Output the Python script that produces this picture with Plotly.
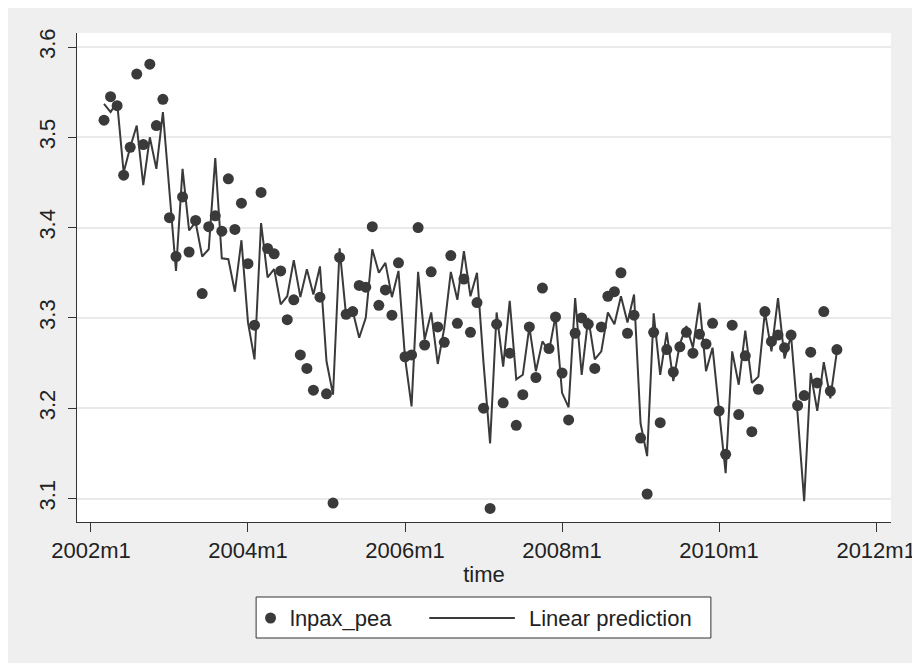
import plotly.graph_objects as go

# ---- data (monthly, starting 2002m3) ----
start_year = 2002
start_month = 3

lnpax_pea = [
    3.519, 3.545, 3.535, 3.458, 3.489, 3.570, 3.492, 3.581, 3.513, 3.542,
    3.411, 3.368, 3.434, 3.373, 3.408, 3.327, 3.401, 3.413, 3.396, 3.454,
    3.398, 3.427, 3.360, 3.292, 3.439, 3.377, 3.371, 3.352, 3.298, 3.320,
    3.259, 3.244, 3.220, 3.323, 3.216, 3.095, 3.367, 3.304, 3.307, 3.336,
    3.334, 3.401, 3.314, 3.331, 3.303, 3.361, 3.257, 3.259, 3.400, 3.270,
    3.351, 3.290, 3.273, 3.369, 3.294, 3.343, 3.284, 3.317, 3.200, 3.089,
    3.293, 3.206, 3.261, 3.181, 3.215, 3.290, 3.234, 3.333, 3.266, 3.301,
    3.239, 3.187, 3.283, 3.300, 3.293, 3.244, 3.290, 3.324, 3.329, 3.350,
    3.283, 3.303, 3.167, 3.105, 3.284, 3.184, 3.265, 3.240, 3.268, 3.284,
    3.261, 3.282, 3.271, 3.294, 3.197, 3.149, 3.292, 3.193, 3.258, 3.174,
    3.221, 3.307, 3.274, 3.281, 3.267, 3.281, 3.203, 3.214, 3.262, 3.228,
    3.307, 3.219, 3.265,
]

linear_prediction = [
    3.537, 3.528, 3.539, 3.461, 3.489, 3.513, 3.447, 3.500, 3.465, 3.528,
    3.440, 3.352, 3.465, 3.397, 3.406, 3.368, 3.376, 3.477, 3.366, 3.365,
    3.329, 3.386, 3.295, 3.254, 3.405, 3.345, 3.354, 3.315, 3.324, 3.364,
    3.323, 3.354, 3.326, 3.357, 3.252, 3.215, 3.377, 3.302, 3.308, 3.278,
    3.300, 3.376, 3.350, 3.361, 3.323, 3.352, 3.256, 3.202, 3.351, 3.276,
    3.306, 3.249, 3.289, 3.351, 3.320, 3.374, 3.324, 3.350, 3.250, 3.161,
    3.306, 3.246, 3.319, 3.232, 3.237, 3.290, 3.241, 3.274, 3.263, 3.302,
    3.217, 3.201, 3.322, 3.237, 3.300, 3.254, 3.263, 3.306, 3.293, 3.324,
    3.295, 3.326, 3.183, 3.147, 3.305, 3.237, 3.284, 3.230, 3.271, 3.291,
    3.267, 3.317, 3.241, 3.267, 3.197, 3.128, 3.263, 3.226, 3.286, 3.228,
    3.235, 3.307, 3.263, 3.322, 3.255, 3.280, 3.193, 3.097, 3.239, 3.197,
    3.251, 3.211, 3.263,
]

x_tick_vals = [0, 24, 48, 72, 96, 120]
x_tick_text = ["2002m1", "2004m1", "2006m1", "2008m1", "2010m1", "2012m1"]
y_tick_vals = [3.1, 3.2, 3.3, 3.4, 3.5, 3.6]
y_tick_text = ["3.1", "3.2", "3.3", "3.4", "3.5", "3.6"]
legend_labels = ["lnpax_pea", "Linear prediction"]

# monthly time index (months since 2002m1)
t0 = (start_year - 2002) * 12 + (start_month - 1)
time = [t0 + i for i in range(len(lnpax_pea))]

# ---- styling ----
FONT = "Liberation Sans, Arial, Helvetica, sans-serif"
DARK = "#3a3a3a"
BG = "#efefef"

fig = go.Figure()
fig.add_trace(go.Scatter(
    x=time, y=lnpax_pea, mode="markers", name=legend_labels[0],
    marker=dict(color=DARK, size=11, line=dict(width=0)),
))
fig.add_trace(go.Scatter(
    x=time, y=linear_prediction, mode="lines", name=legend_labels[1],
    line=dict(color=DARK, width=2),
))

# the page places the figure at (8, 8) (default body margin)
OFF = 8
W, H = 920, 663
L, R, T, B = 69, 33, 25, 149
pw, ph = W - L - R, H - T - B


def px_x(X):  # screen pixel -> paper x
    return (X - OFF - L) / pw


def px_y(Y):  # screen pixel -> paper y
    return 1 - (Y - OFF - T) / ph


# legend box drawn like Stata's (long line key)
leg_y = 618
shapes = [
    dict(type="rect", xref="paper", yref="paper",
         x0=px_x(257), x1=px_x(714), y0=px_y(638), y1=px_y(597),
         fillcolor="white", line=dict(color="#333333", width=1), layer="above"),
    dict(type="circle", xref="paper", yref="paper",
         x0=px_x(271.5 - 5.5), x1=px_x(271.5 + 5.5),
         y0=px_y(leg_y + 5.5), y1=px_y(leg_y - 5.5),
         fillcolor=DARK, line=dict(width=0), layer="above"),
    dict(type="line", xref="paper", yref="paper",
         x0=px_x(431), x1=px_x(517), y0=px_y(leg_y), y1=px_y(leg_y),
         line=dict(color=DARK, width=2), layer="above"),
]
annotations = [
    dict(text=legend_labels[0], xref="paper", yref="paper", x=px_x(289), y=px_y(leg_y),
         xanchor="left", yanchor="middle", showarrow=False,
         font=dict(family=FONT, size=22, color="#222222")),
    dict(text=legend_labels[1], xref="paper", yref="paper", x=px_x(529), y=px_y(leg_y),
         xanchor="left", yanchor="middle", showarrow=False,
         font=dict(family=FONT, size=22, color="#222222")),
]

fig.update_layout(
    width=W, height=H,
    margin=dict(l=L, r=R, t=T, b=B, pad=0),
    paper_bgcolor=BG, plot_bgcolor="white",
    font=dict(family=FONT, size=22, color="#222222"),
    showlegend=False,
    shapes=shapes,
    annotations=annotations,
    xaxis=dict(
        range=[-2.13, 122.27], tickmode="array", tickvals=x_tick_vals, ticktext=x_tick_text,
        showgrid=False, zeroline=False, showline=True, linecolor="#333333", linewidth=1,
        ticks="outside", ticklen=9, tickcolor="#333333", tickwidth=1,
        tickfont=dict(size=22),
        title=dict(text="time", font=dict(size=22), standoff=4),
    ),
    yaxis=dict(
        range=[3.074, 3.6155], tickmode="array", tickvals=y_tick_vals, ticktext=y_tick_text,
        showgrid=True, gridcolor="#eaeaea", gridwidth=1.5, zeroline=False,
        showline=True, linecolor="#333333", linewidth=1,
        ticks="outside", ticklen=8, tickcolor="#333333", tickwidth=1,
        tickangle=-90, tickfont=dict(size=22), ticklabelstandoff=4,
    ),
)

fig.write_html("out.html")
